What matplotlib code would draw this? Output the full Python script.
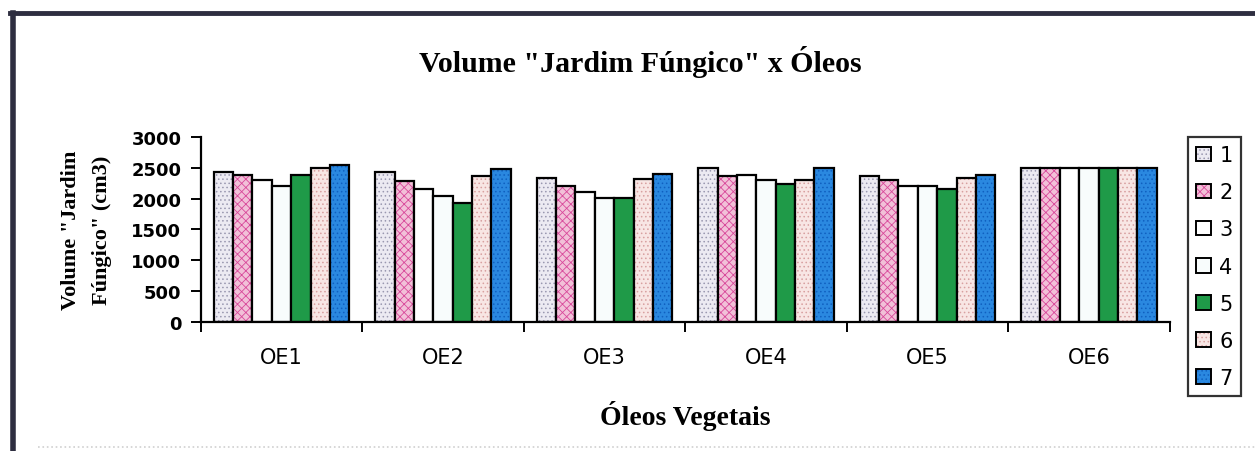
import matplotlib
matplotlib.use("Agg")
import matplotlib.pyplot as plt
from matplotlib.patches import Patch
from matplotlib.lines import Line2D
import numpy as np

# dados
oleos = ["OE1", "OE2", "OE3", "OE4", "OE5", "OE6"]
series = ["1", "2", "3", "4", "5", "6", "7"]
s1 = [2435, 2425, 2330, 2490, 2360, 2500]
s2 = [2380, 2285, 2200, 2360, 2295, 2500]
s3 = [2305, 2155, 2100, 2380, 2210, 2500]
s4 = [2210, 2045, 2005, 2305, 2210, 2500]
s5 = [2380, 1930, 2010, 2230, 2155, 2490]
s6 = [2490, 2360, 2315, 2295, 2330, 2500]
s7 = [2545, 2480, 2395, 2500, 2380, 2500]
valores = [s1, s2, s3, s4, s5, s6, s7]

# (cor de fundo, cor do padrao, hachura)
estilos = [
    ("#eceaf2", "#9a98b0", "...."),
    ("#f2c0d8", "#d8489a", "xxxx"),
    ("#ffffff", "#ffffff", ""),
    ("#f8fcfc", "#f8fcfc", ""),
    ("#1f9a48", "#1f9a48", ""),
    ("#f8e6e4", "#d8a0a0", "...."),
    ("#2a88e0", "#1060c0", "...."),
]

plt.rcParams["hatch.linewidth"] = 0.6
serif = "Liberation Serif"
sans = "DejaVu Sans"

fig = plt.figure(figsize=(12.55, 4.52), dpi=100)
ax = fig.add_axes([0.160, 0.2854, 0.772, 0.4093])

x = np.arange(len(oleos))
w = 0.12
handles = []
for i, (vals, (fc, hc, hatch)) in enumerate(zip(valores, estilos)):
    pos = x + (i - 3) * w
    ax.bar(pos, vals, w, color=fc, edgecolor=hc, hatch=hatch, linewidth=0)
    ax.bar(pos, vals, w, facecolor="none", edgecolor="black", linewidth=1.6)
    handles.append((Patch(facecolor=fc, edgecolor=hc, hatch=hatch, linewidth=0),
                    Patch(facecolor="none", edgecolor="black", linewidth=1.4)))

ax.set_xlim(-0.5, len(oleos) - 0.5)
ax.set_ylim(0, 3000)
ax.set_yticks(np.arange(0, 3001, 500))
ax.set_xticks(x)
ax.set_xticklabels(oleos, fontsize=15, family=sans)
ax.set_xticks(np.arange(-0.5, len(oleos), 1), minor=True)
ax.tick_params(axis="x", which="major", length=0, pad=18)
ax.tick_params(axis="x", which="minor", length=7, width=1.4, direction="out")
ax.tick_params(axis="y", length=7, width=1.4, direction="out", pad=7)
for lab in ax.get_yticklabels():
    lab.set_fontsize(13)
    lab.set_family(sans)
    lab.set_fontweight("bold")

for s in ["top", "right"]:
    ax.spines[s].set_visible(False)
for s in ["left", "bottom"]:
    ax.spines[s].set_linewidth(1.6)

ax.set_ylabel('Volume "Jardim\nFúngico" (cm3)', family=serif, fontsize=16,
              fontweight="bold", linespacing=1.75, labelpad=14)
ax.set_xlabel("Óleos Vegetais", family=serif, fontsize=20, fontweight="bold",
              labelpad=24)
fig.text(0.51, 0.862, 'Volume "Jardim Fúngico" x Óleos', family=serif,
         fontsize=21.5, fontweight="bold", ha="center", va="center")

leg = fig.legend(handles, series, loc="upper left",
                 bbox_to_anchor=(0.9466, 0.6947), bbox_transform=fig.transFigure,
                 prop={"family": sans, "size": 15}, handlelength=0.7,
                 handleheight=0.7, handletextpad=0.4, labelspacing=0.82,
                 borderpad=0.4, borderaxespad=0, fancybox=False, frameon=True)
leg.get_frame().set_edgecolor("black")
leg.get_frame().set_linewidth(1.6)

# moldura externa do grafico
fig.add_artist(Line2D([0.008, 1.0], [0.968, 0.968], transform=fig.transFigure,
                      color="#2e2e40", linewidth=3.5))
fig.add_artist(Line2D([0.0100, 0.0100], [0.0, 0.968], transform=fig.transFigure,
                      color="#2e2e40", linewidth=4))
fig.add_artist(Line2D([0.03, 1.0], [0.008, 0.008], transform=fig.transFigure,
                      color="#d0d0d0", linewidth=1.2, linestyle=":"))

fig.savefig("out.png", dpi=100)
